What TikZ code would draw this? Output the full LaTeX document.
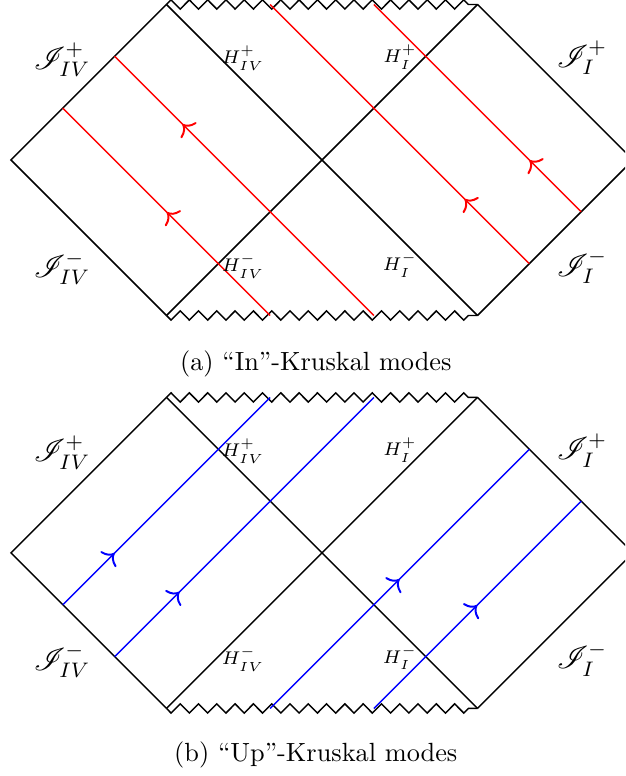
\documentclass[tikz,border=0pt]{standalone}
\usepackage{mathrsfs}
\usetikzlibrary{decorations.pathmorphing,decorations.markings,arrows.meta}
\tikzset{
  bline/.style={black, line width=0.55pt},
  sing/.style={bline, decorate, decoration={zigzag, segment length=6.953pt, amplitude=1.75pt}},
  singlow/.style={bline, decorate, decoration={zigzag, mirror, segment length=6.953pt, amplitude=1.75pt}},
  tipmark/.style={postaction={decorate}, decoration={markings, mark=at position #1 with {\arrow{Computer Modern Rightarrow[length=3.6pt,width=8.4pt,line width=0.75pt]}}}},
  inmode/.style={red, line width=0.55pt, tipmark=#1},
  upmode/.style={blue, line width=0.55pt, tipmark=#1},
  scri/.style={font=\large},
  hor/.style={font=\scriptsize},
  captext/.style={anchor=base, font=\normalsize},
}
\begin{document}
\begin{tikzpicture}[x=59.1pt,y=59.1pt]
\useasboundingbox (-2.0707,-3.9614) rectangle (1.9486,1.0289);
\clip (-2.0707,-3.9614) rectangle (1.9486,1.0289);
% ---------- top diagram (a) ----------
\begin{scope}
  \coordinate (aL) at (-2,0);
  \coordinate (aTL) at (-1,1);
  \coordinate (aBL) at (-1,-1);
  \coordinate (aTR) at (1,1);
  \coordinate (aBR) at (1,-1);
  \coordinate (aR) at (2,0);
  \draw[bline] (aTL) -- (aL) -- (aBL);
  \draw[bline] (aTR) -- (aR) -- (aBR);
  \draw[bline] (aTL) -- (aBR);
  \draw[bline] (aBL) -- (aTR);
  \draw[sing] (aTL) -- (aTR);
  \draw[singlow] (aBL) -- (aBR);
  % in modes
  \coordinate (r1s) at (-1/3,-1);  \coordinate (r1e) at (-5/3,1/3);
  \coordinate (r2s) at (1/3,-1);   \coordinate (r2e) at (-4/3,2/3);
  \coordinate (r3s) at (4/3,-2/3); \coordinate (r3e) at (-1/3,1);
  \coordinate (r4s) at (5/3,-1/3); \coordinate (r4e) at (1/3,1);
  \draw[inmode=0.5] (r1s) -- (r1e);
  \draw[inmode=0.74] (r2s) -- (r2e);
  \draw[inmode=0.25] (r3s) -- (r3e);
  \draw[inmode=0.25] (r4s) -- (r4e);
  % labels
  \node[scri] (aS1) at (-1.672,0.643) {$\mathscr{I}^+_{IV}$};
  \node[scri] (aS2) at (-1.672,-0.695) {$\mathscr{I}^-_{IV}$};
  \node[hor] (aH1) at (-0.508,0.656) {$H^+_{IV}$};
  \node[hor] (aH2) at (-0.508,-0.682) {$H^-_{IV}$};
  \node[hor] (aH3) at (0.502,0.662) {$H^+_{I}$};
  \node[hor] (aH4) at (0.502,-0.675) {$H^-_{I}$};
  \node[scri] (aS3) at (1.672,0.656) {$\mathscr{I}^+_{I}$};
  \node[scri] (aS4) at (1.672,-0.688) {$\mathscr{I}^-_{I}$};
  \node[captext] (capa) at (-0.04,-1.354) {(a) ``In''-Kruskal modes};
\end{scope}
% ---------- bottom diagram (b) ----------
\begin{scope}[shift={(0,-2.527)}]
  \coordinate (bL) at (-2,0);
  \coordinate (bTL) at (-1,1);
  \coordinate (bBL) at (-1,-1);
  \coordinate (bTR) at (1,1);
  \coordinate (bBR) at (1,-1);
  \coordinate (bR) at (2,0);
  \draw[bline] (bTL) -- (bL) -- (bBL);
  \draw[bline] (bTR) -- (bR) -- (bBR);
  \draw[bline] (bTL) -- (bBR);
  \draw[bline] (bBL) -- (bTR);
  \draw[sing] (bTL) -- (bTR);
  \draw[singlow] (bBL) -- (bBR);
  % up modes
  \coordinate (u1s) at (-5/3,-1/3); \coordinate (u1e) at (-1/3,1);
  \coordinate (u2s) at (-4/3,-2/3); \coordinate (u2e) at (1/3,1);
  \coordinate (u3s) at (-1/3,-1);   \coordinate (u3e) at (4/3,2/3);
  \coordinate (u4s) at (1/3,-1);    \coordinate (u4e) at (5/3,1/3);
  \draw[upmode=0.25] (u1s) -- (u1e);
  \draw[upmode=0.25] (u2s) -- (u2e);
  \draw[upmode=0.5] (u3s) -- (u3e);
  \draw[upmode=0.5] (u4s) -- (u4e);
  % labels
  \node[scri] (bS1) at (-1.672,0.643) {$\mathscr{I}^+_{IV}$};
  \node[scri] (bS2) at (-1.672,-0.695) {$\mathscr{I}^-_{IV}$};
  \node[hor] (bH1) at (-0.508,0.656) {$H^+_{IV}$};
  \node[hor] (bH2) at (-0.508,-0.682) {$H^-_{IV}$};
  \node[hor] (bH3) at (0.502,0.662) {$H^+_{I}$};
  \node[hor] (bH4) at (0.502,-0.675) {$H^-_{I}$};
  \node[scri] (bS3) at (1.672,0.656) {$\mathscr{I}^+_{I}$};
  \node[scri] (bS4) at (1.672,-0.688) {$\mathscr{I}^-_{I}$};
  \node[captext] (capb) at (-0.04,-1.342) {(b) ``Up''-Kruskal modes};
\end{scope}
\end{tikzpicture}
\end{document}
